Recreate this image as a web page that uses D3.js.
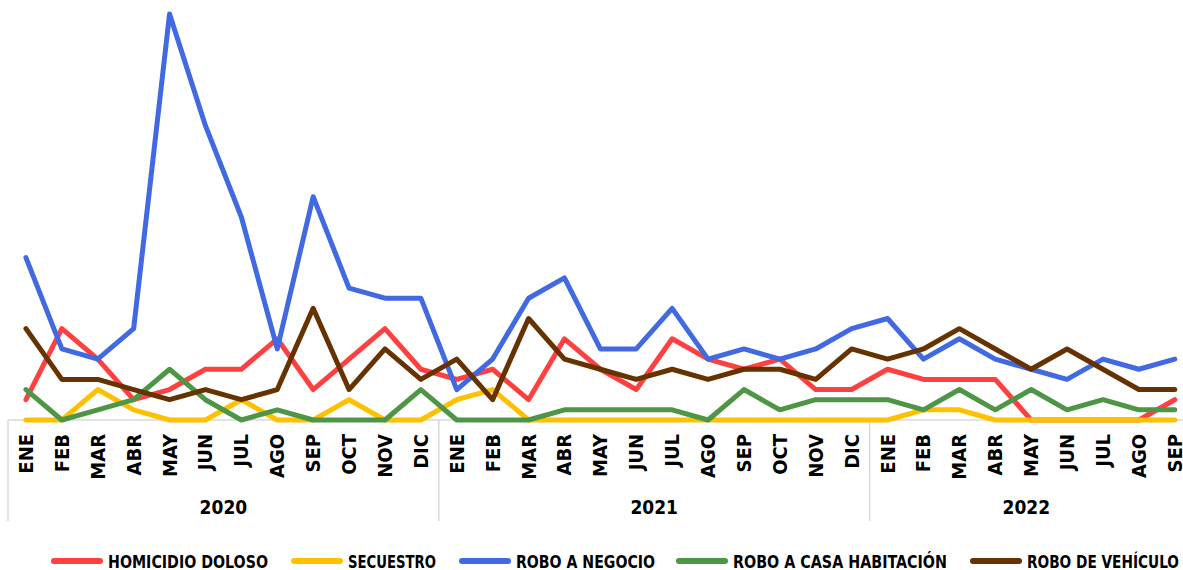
<!DOCTYPE html>
<html>
<head>
<meta charset="utf-8">
<script src="https://cdn.jsdelivr.net/npm/d3@7"></script>
<style>
  body { margin: 0; background: #fff; }
  text { font-family: "DejaVu Sans Condensed", "DejaVu Sans", sans-serif; font-stretch: condensed; font-weight: bold; fill: #000; }
</style>
</head>
<body>
<div id="chart"></div>
<script>
// months per year and year labels
var years = ["2020", "2021", "2022"];
var monthsPerYear = [12, 12, 9];
var monthNames = ["ENE", "FEB", "MAR", "ABR", "MAY", "JUN", "JUL", "AGO", "SEP", "OCT", "NOV", "DIC"];

var seriesNames = ["HOMICIDIO DOLOSO", "SECUESTRO", "ROBO A NEGOCIO", "ROBO A CASA HABITACIÓN", "ROBO DE VEHÍCULO"];
var seriesColors = ["#ff4040", "#ffc000", "#4169e1", "#4e9545", "#663300"];

var homicidio = [2, 9, 6, 2, 3, 5, 5, 8, 3, 6, 9, 5,
                 4, 5, 2, 8, 5, 3, 8, 6, 5, 6, 3, 3,
                 5, 4, 4, 4, 0, 0, 0, 0, 2];
var secuestro = [0, 0, 3, 1, 0, 0, 2, 0, 0, 2, 0, 0,
                 2, 3, 0, 0, 0, 0, 0, 0, 0, 0, 0, 0,
                 0, 1, 1, 0, 0, 0, 0, 0, 0];
var roboNegocio = [16, 7, 6, 9, 40, 29, 20, 7, 22, 13, 12, 12,
                   3, 6, 12, 14, 7, 7, 11, 6, 7, 6, 7, 9,
                   10, 6, 8, 6, 5, 4, 6, 5, 6];
var roboCasa = [3, 0, 1, 2, 5, 2, 0, 1, 0, 0, 0, 3,
                0, 0, 0, 1, 1, 1, 1, 0, 3, 1, 2, 2,
                2, 1, 3, 1, 3, 1, 2, 1, 1];
var roboVehiculo = [9, 4, 4, 3, 2, 3, 2, 3, 11, 3, 7, 4,
                    6, 2, 10, 6, 5, 4, 5, 4, 5, 5, 4, 7,
                    6, 7, 9, 7, 5, 7, 5, 3, 3];

var allSeries = [homicidio, secuestro, roboNegocio, roboCasa, roboVehiculo];

// build category keys like "2020-ENE"
var cats = [];
years.forEach(function(yr, i) {
  for (var m = 0; m < monthsPerYear[i]; m++) cats.push(yr + "-" + monthNames[m]);
});

var W = 1183, H = 570;
var svg = d3.select("#chart").append("svg")
    .attr("width", W)
    .attr("height", H);

var left = 8, bandW = 35.9;
var x = d3.scaleBand()
  .domain(cats)
  .range([left, left + bandW * cats.length]);

var y = d3.scaleLinear()
  .domain([0, 40])
  .range([420, 14]);

// axis line and group separators
svg.append("line")
  .attr("x1", left).attr("x2", W)
  .attr("y1", y(0)).attr("y2", y(0))
  .attr("stroke", "#d9d9d9").attr("stroke-width", 1.5);

var start = 0;
years.forEach(function(yr, i) {
  var x0 = x(cats[start]);
  var x1 = x(cats[start + monthsPerYear[i] - 1]) + x.bandwidth();
  svg.append("line")
    .attr("x1", x0).attr("x2", x0)
    .attr("y1", y(0)).attr("y2", 521)
    .attr("stroke", "#d9d9d9").attr("stroke-width", 1.5);
  svg.append("text")
    .attr("x", (x0 + Math.min(x1, W)) / 2)
    .attr("y", 514)
    .attr("text-anchor", "middle")
    .style("font-size", "19px")
    .text(yr);
  start += monthsPerYear[i];
});

// month labels (rotated)
svg.selectAll("text.month")
  .data(cats)
  .enter()
  .append("text")
    .attr("class", "month")
    .attr("transform", function(d) {
      return "translate(" + (x(d) + x.bandwidth() / 2 + 7) + ",434) rotate(-90)";
    })
    .attr("text-anchor", "end")
    .style("font-size", "20px")
    .text(function(d) { return d.split("-")[1]; });

// lines
var line = d3.line()
  .x(function(d, i) { return x(cats[i]) + x.bandwidth() / 2; })
  .y(function(d) { return y(d); });

svg.selectAll("path.serie")
  .data(allSeries)
  .enter()
  .append("path")
    .attr("class", "serie")
    .attr("d", line)
    .attr("fill", "none")
    .attr("stroke", function(d, i) { return seriesColors[i]; })
    .attr("stroke-width", 5)
    .attr("stroke-linejoin", "round")
    .attr("stroke-linecap", "round");

// legend
var legendX = [108, 348, 516, 733, 1027];
var legendW = [160, 88, 139, 214, 152];
var lg = svg.selectAll("g.leg")
  .data(seriesNames)
  .enter()
  .append("g")
    .attr("class", "leg")
    .attr("transform", function(d, i) { return "translate(" + legendX[i] + ",561)"; });

lg.append("line")
  .attr("x1", -54).attr("x2", -8)
  .attr("y1", 0).attr("y2", 0)
  .attr("stroke", function(d, i) { return seriesColors[i]; })
  .attr("stroke-width", 6)
  .attr("stroke-linecap", "round");

lg.append("text")
  .attr("x", 0)
  .attr("y", 6.5)
  .attr("textLength", function(d, i) { return legendW[i]; })
  .attr("lengthAdjust", "spacingAndGlyphs")
  .style("font-size", "17px")
  .text(function(d) { return d; });
</script>
</body>
</html>
